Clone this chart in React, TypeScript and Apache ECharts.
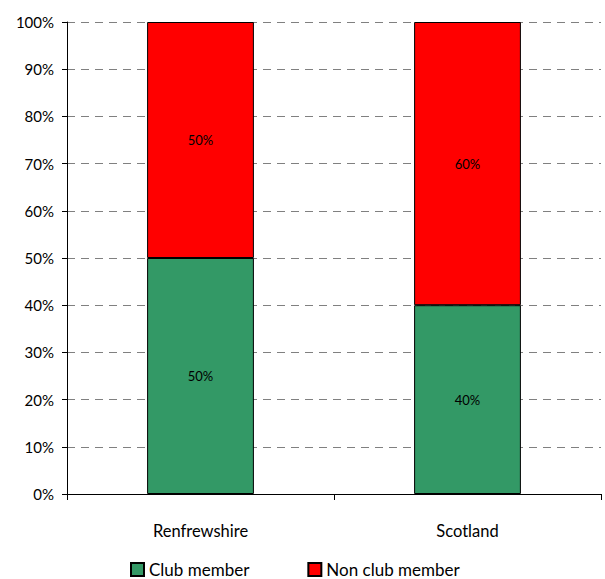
import React, { useEffect, useRef } from "react";
import * as echarts from "echarts";

const categories = ["Renfrewshire", "Scotland"];
const clubMember = [50, 40];
const nonClubMember = [50, 60];
const yTicks = [0, 10, 20, 30, 40, 50, 60, 70, 80, 90, 100];

const FONT = "Lato, 'DejaVu Sans', sans-serif";

export default function App() {
  const ref = useRef<HTMLDivElement>(null);
  useEffect(() => {
    if (!ref.current) return;
    const chart = echarts.init(ref.current, undefined, { renderer: "svg" });
    chart.setOption({
      animation: false,
      textStyle: { fontFamily: FONT },
      grid: { left: 67, right: 4, top: 22, bottom: 85 },
      legend: {
        top: 561,
        left: 130,
        padding: 0,
        itemWidth: 13,
        itemHeight: 13,
        itemGap: 58,
        icon: "rect",
        textStyle: { fontSize: 17, color: "#000", fontFamily: FONT, lineHeight: 17 },
        data: ["Club member", "Non club member"],
      },
      xAxis: {
        type: "category",
        data: categories,
        axisLine: { lineStyle: { color: "#000", width: 1 } },
        axisTick: { show: true, length: 6, lineStyle: { color: "#000" } },
        axisLabel: { fontSize: 16.5, color: "#000", margin: 28, fontFamily: FONT },
      },
      yAxis: {
        type: "value",
        min: yTicks[0],
        max: yTicks[yTicks.length - 1],
        interval: 10,
        axisLine: { show: true, lineStyle: { color: "#000", width: 1 } },
        axisTick: { show: true, length: 5, lineStyle: { color: "#000" } },
        axisLabel: { formatter: "{value}%", fontSize: 15, color: "#000", margin: 13, fontFamily: FONT },
        splitLine: { show: true, lineStyle: { color: "#808080", type: [8, 6], width: 1 } },
      },
      series: [
        {
          name: "Club member",
          type: "bar",
          stack: "total",
          barWidth: "40%",
          data: clubMember,
          itemStyle: { color: "#339966", borderColor: "#000", borderWidth: 1 },
          label: { show: true, position: "inside", formatter: "{c}%", color: "#000", fontSize: 13, fontFamily: FONT },
        },
        {
          name: "Non club member",
          type: "bar",
          stack: "total",
          barWidth: "40%",
          data: nonClubMember,
          itemStyle: { color: "#FF0000", borderColor: "#000", borderWidth: 1 },
          label: { show: true, position: "inside", formatter: "{c}%", color: "#000", fontSize: 13, fontFamily: FONT },
        },
      ],
    });
    return () => chart.dispose();
  }, []);
  return (
    <div
      ref={ref}
      style={{ position: "absolute", left: 0, top: 0, width: 605, height: 579, background: "#fff" }}
    />
  );
}
